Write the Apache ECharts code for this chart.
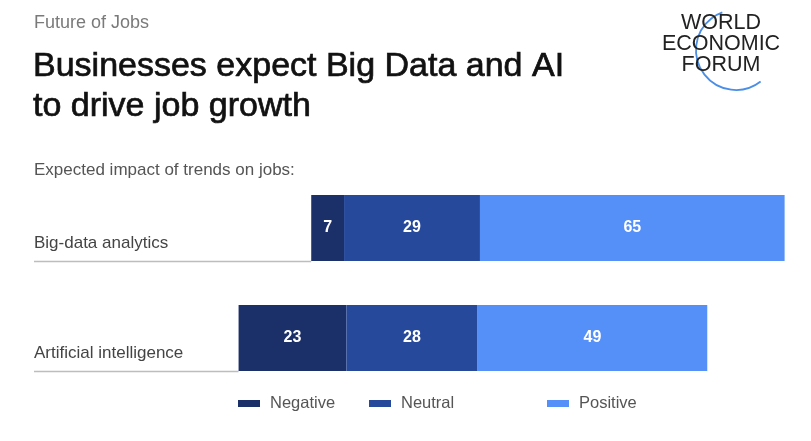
<!DOCTYPE html>
<html>
<head>
<meta charset="utf-8">
<script src="https://cdn.jsdelivr.net/npm/echarts@6/dist/echarts.min.js"></script>
<style>
html,body{margin:0;padding:0;background:#fff;}
#c{width:811px;height:441px;}
</style>
</head>
<body>
<div id="c"></div>
<script>
const categories = ['Big-data analytics', 'Artificial intelligence'];
const negative = [7, 23];
const neutral = [29, 28];
const positive = [65, 49];
const seriesNames = ['Negative', 'Neutral', 'Positive'];
const colors = ['#1b2f68', '#27499c', '#5590f8'];

// offset so that the neutral segment is centred on zero (diverging layout)
const offsets = negative.map((n, i) => -(n + neutral[i] / 2));

const FONT = '"Liberation Sans", Arial, Helvetica, sans-serif';
const X_MIN = -80.65, X_MAX = 80.65;

const chart = echarts.init(document.getElementById('c'), null, {renderer: 'canvas'});

const barLabel = {
  show: true, position: 'inside', color: '#ffffff',
  fontSize: 16, fontWeight: 'bold', fontFamily: FONT
};

const option = {
  backgroundColor: '#ffffff',
  animation: false,
  title: [
    {text: 'Future of Jobs', left: 34, top: 13, padding: 0,
     textStyle: {fontSize: 18, fontWeight: 'normal', color: '#7a7a7a', fontFamily: FONT, lineHeight: 20}},
    {text: 'Businesses expect Big Data and AI\nto drive job growth', left: 33, top: 47, padding: 0,
     textStyle: {fontSize: 34, fontWeight: 'normal', color: '#111111', fontFamily: FONT, lineHeight: 40,
       textBorderColor: '#111111', textBorderWidth: 0.7}},
    {text: 'Expected impact of trends on jobs:', left: 34, top: 160, padding: 0,
     textStyle: {fontSize: 17, fontWeight: 'normal', color: '#555555', fontFamily: FONT, lineHeight: 20}}
  ],
  legend: seriesNames.map((name, i) => ({
    data: [name],
    left: [238, 369, 547][i],
    top: 395,
    padding: 0,
    icon: 'rect',
    itemWidth: 22, itemHeight: 7,
    selectedMode: false,
    textStyle: {fontSize: 16.5, color: '#555555', fontFamily: FONT, padding: [0, 0, 0, 5]}
  })),
  grid: {left: 34, right: 21, top: 173, height: 220, containLabel: false},
  xAxis: {type: 'value', min: X_MIN, max: X_MAX, show: false},
  yAxis: {
    type: 'category', data: categories, inverse: true,
    axisLine: {show: false}, axisTick: {show: false}, splitLine: {show: false},
    axisLabel: {show: false}
  },
  series: [
    {
      name: 'offset', type: 'bar', stack: 'total', stackStrategy: 'all',
      data: offsets, barWidth: '60%', silent: true,
      itemStyle: {color: 'rgba(0,0,0,0)'}, label: {show: false}, tooltip: {show: false}
    },
    ...seriesNames.map((name, i) => ({
      name: name, type: 'bar', stack: 'total', stackStrategy: 'all',
      data: [negative, neutral, positive][i], barWidth: '60%',
      itemStyle: {color: colors[i]},
      label: barLabel
    })),
    {
      name: 'baseline', type: 'custom',
      data: offsets.map((o, i) => [o, i]),
      encode: {x: 0, y: 1},
      silent: true, z: 1,
      renderItem: function (params, api) {
        const cat = api.value(1);
        const start = api.coord([X_MIN, cat]);
        const end = api.coord([api.value(0), cat]);
        const h = api.size([0, 1])[1] * 0.6;
        const y = start[1] + h / 2 + 0.5;
        return {
          type: 'group',
          children: [
            {
              type: 'line',
              shape: {x1: start[0], y1: y, x2: end[0], y2: y},
              style: {stroke: '#bdbdbd', lineWidth: 1.5}
            },
            {
              type: 'text',
              x: start[0], y: start[1] + 15,
              style: {text: categories[cat], fontSize: 17, fill: '#444444', fontFamily: FONT,
                align: 'left', verticalAlign: 'middle'}
            }
          ]
        };
      }
    }
  ],
  graphic: [
    {type: 'text', x: 721, y: 23, style: {text: 'WORLD', fontSize: 21.5, fill: '#222222', fontFamily: FONT,
      align: 'center', verticalAlign: 'middle'}},
    {type: 'text', x: 721, y: 44, style: {text: 'ECONOMIC', fontSize: 21.5, fill: '#222222', fontFamily: FONT,
      align: 'center', verticalAlign: 'middle'}},
    {type: 'text', x: 721, y: 65, style: {text: 'FORUM', fontSize: 21.5, fill: '#222222', fontFamily: FONT,
      align: 'center', verticalAlign: 'middle'}},
    {type: 'arc', shape: {cx: 736, cy: 50, r: 40, startAngle: 52 * Math.PI / 180, endAngle: 250 * Math.PI / 180, clockwise: true},
      style: {stroke: '#4a8ee6', lineWidth: 1.8, fill: null}, z: -1}
  ]
};
chart.setOption(option);
</script>
</body>
</html>
